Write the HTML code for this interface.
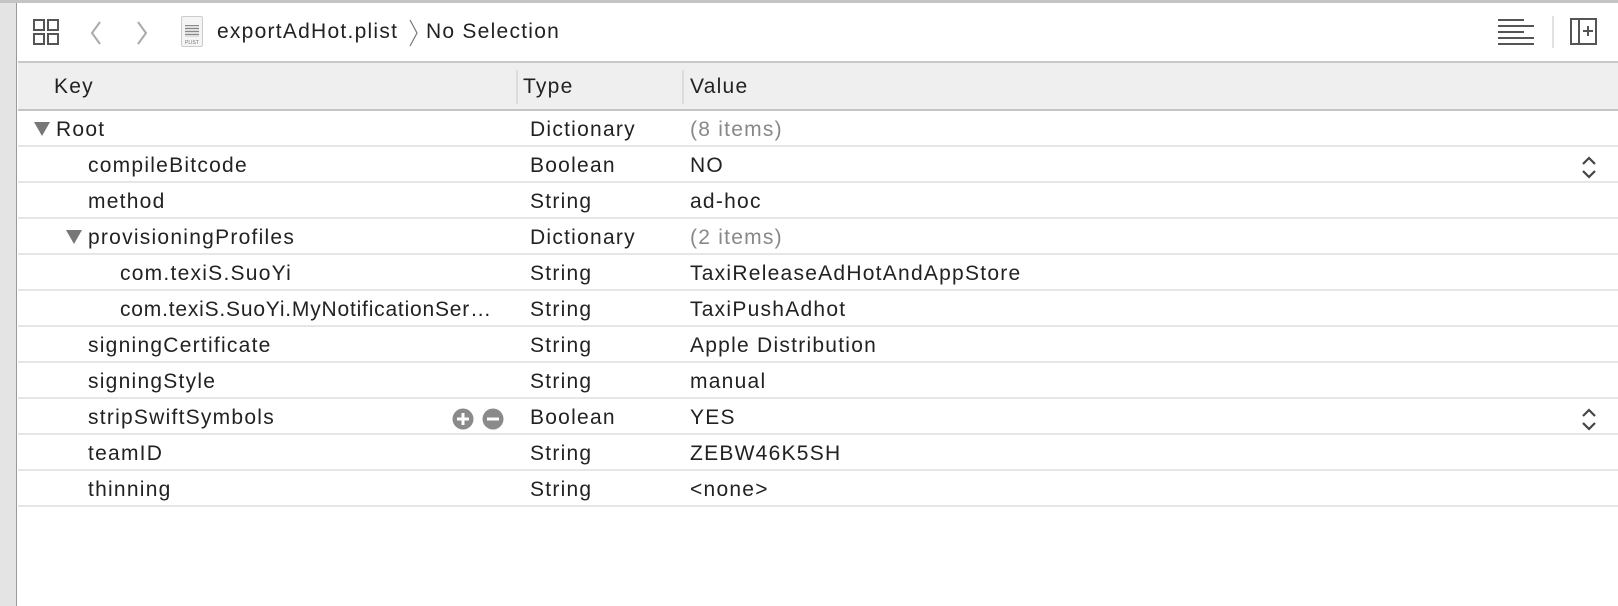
<!DOCTYPE html>
<html><head><style>
*{margin:0;padding:0;box-sizing:border-box}
body{width:1618px;height:606px;background:#fff;position:relative;overflow:hidden;font-family:"Liberation Sans",sans-serif;color:#222;font-size:21px;letter-spacing:1.25px}
.a{position:absolute}
.t{position:absolute;white-space:nowrap;line-height:36px;top:0}
.row{position:absolute;left:18px;right:0;height:36px;border-bottom:2px solid #e6e6e6}
.g{color:#888}
</style></head><body>
<div class="a" style="left:0;top:0;width:17px;height:606px;background:#e4e4e4;border-right:1px solid #9a9a9a"></div>
<div class="a" style="left:0;top:0;width:1618px;height:3px;background:#c4c4c4"></div>
<div class="a" style="left:18px;top:61px;right:0;height:2px;background:#c8c8c8"></div>
<svg class="a" style="left:30px;top:16px" width="32" height="32" viewBox="0 0 32 32" fill="none" stroke="#555" stroke-width="2">
<rect x="4" y="4" width="10" height="10"/><rect x="18" y="4" width="10" height="10"/><rect x="4" y="18" width="10" height="10"/><rect x="18" y="18" width="10" height="10"/></svg>
<svg class="a" style="left:88px;top:18px" width="64" height="30" fill="none" stroke="#aaa" stroke-width="2"><path d="M12 4 L4 15 L12 26"/><path d="M50 4 L58 15 L50 26"/></svg>
<div class="a" style="left:181px;top:16px;width:22px;height:31px;background:#f4f4f4;border:1px solid #ccc;border-radius:2px"></div>
<div class="a" style="left:185px;top:25px;width:14px;height:12px;background:repeating-linear-gradient(#888 0 1px,#ddd 1px 3px)"></div>
<div class="a" style="left:185px;top:40px;font-size:5px;color:#777;letter-spacing:0">PLIST</div>
<div class="t" style="left:217px;top:14px">exportAdHot.plist</div>
<svg class="a" style="left:407px;top:18px" width="12" height="30" fill="none" stroke="#777" stroke-width="1.2"><path d="M3 2 L10 15 L3 28"/></svg>
<div class="t" style="left:426px;top:14px">No Selection</div>
<svg class="a" style="left:1497px;top:18px" width="40" height="28" fill="#555"><rect x="1" y="1" width="26" height="2"/><rect x="1" y="7" width="36" height="2"/><rect x="1" y="13" width="26" height="2"/><rect x="1" y="19" width="36" height="2"/><rect x="1" y="25" width="36" height="2"/></svg>
<div class="a" style="left:1552px;top:16px;width:2px;height:32px;background:#e2e2e2"></div>
<svg class="a" style="left:1570px;top:18px" width="28" height="28" fill="none" stroke="#555" stroke-width="2"><rect x="1" y="1" width="25" height="25"/><line x1="9" y1="1" x2="9" y2="26"/><line x1="13" y1="13" x2="23" y2="13"/><line x1="18" y1="8" x2="18" y2="18"/></svg>
<div class="a" style="left:18px;top:63px;right:0;height:48px;background:#efefef;border-bottom:2px solid #c4c4c4"></div>
<div class="a" style="left:516px;top:70px;width:2px;height:34px;background:#dcdcdc"></div>
<div class="a" style="left:682px;top:70px;width:2px;height:34px;background:#dcdcdc"></div>
<div class="t" style="left:54px;top:69px">Key</div>
<div class="t" style="left:523px;top:69px">Type</div>
<div class="t" style="left:690px;top:69px">Value</div>
<div class="row" style="top:111px"></div><div class="row" style="top:147px"></div><div class="row" style="top:183px"></div><div class="row" style="top:219px"></div><div class="row" style="top:255px"></div><div class="row" style="top:291px"></div><div class="row" style="top:327px"></div><div class="row" style="top:363px"></div><div class="row" style="top:399px"></div><div class="row" style="top:435px"></div><div class="row" style="top:471px"></div>
<svg class="a" style="left:33px;top:121px" width="18" height="16"><path d="M1 1 H17 L9 15Z" fill="#777"/></svg>
<svg class="a" style="left:65px;top:229px" width="18" height="16"><path d="M1 1 H17 L9 15Z" fill="#777"/></svg>
<div class="t" style="left:56px;top:112px">Root</div><div class="t" style="left:530px;top:112px">Dictionary</div><div class="t g" style="left:690px;top:112px">(8 items)</div>
<div class="t" style="left:88px;top:148px">compileBitcode</div><div class="t" style="left:530px;top:148px">Boolean</div><div class="t" style="left:690px;top:148px">NO</div>
<div class="t" style="left:88px;top:184px">method</div><div class="t" style="left:530px;top:184px">String</div><div class="t" style="left:690px;top:184px">ad-hoc</div>
<div class="t" style="left:88px;top:220px">provisioningProfiles</div><div class="t" style="left:530px;top:220px">Dictionary</div><div class="t g" style="left:690px;top:220px">(2 items)</div>
<div class="t" style="left:120px;top:256px">com.texiS.SuoYi</div><div class="t" style="left:530px;top:256px">String</div><div class="t" style="left:690px;top:256px">TaxiReleaseAdHotAndAppStore</div>
<div class="t" style="left:120px;top:292px;letter-spacing:0.8px">com.texiS.SuoYi.MyNotificationSer…</div><div class="t" style="left:530px;top:292px">String</div><div class="t" style="left:690px;top:292px">TaxiPushAdhot</div>
<div class="t" style="left:88px;top:328px">signingCertificate</div><div class="t" style="left:530px;top:328px">String</div><div class="t" style="left:690px;top:328px">Apple Distribution</div>
<div class="t" style="left:88px;top:364px">signingStyle</div><div class="t" style="left:530px;top:364px">String</div><div class="t" style="left:690px;top:364px">manual</div>
<div class="t" style="left:88px;top:400px">stripSwiftSymbols</div><div class="t" style="left:530px;top:400px">Boolean</div><div class="t" style="left:690px;top:400px">YES</div>
<div class="t" style="left:88px;top:436px">teamID</div><div class="t" style="left:530px;top:436px">String</div><div class="t" style="left:690px;top:436px">ZEBW46K5SH</div>
<div class="t" style="left:88px;top:472px">thinning</div><div class="t" style="left:530px;top:472px">String</div><div class="t" style="left:690px;top:472px">&lt;none&gt;</div>
<svg class="a" style="left:452px;top:407px" width="54" height="24"><circle cx="11" cy="12" r="10.5" fill="#8a8a8a"/><rect x="5" y="10.5" width="12" height="3" fill="#fff"/><rect x="9.5" y="6" width="3" height="12" fill="#fff"/><circle cx="41" cy="12" r="10.5" fill="#8a8a8a"/><rect x="35" y="10.5" width="12" height="3" fill="#fff"/></svg>
<svg class="a" style="left:1580px;top:155px" width="20" height="26" fill="none" stroke="#444" stroke-width="2.2"><path d="M3 9 L9 3 L15 9"/><path d="M3 16 L9 22 L15 16"/></svg>
<svg class="a" style="left:1580px;top:407px" width="20" height="26" fill="none" stroke="#444" stroke-width="2.2"><path d="M3 9 L9 3 L15 9"/><path d="M3 16 L9 22 L15 16"/></svg>
</body></html>
